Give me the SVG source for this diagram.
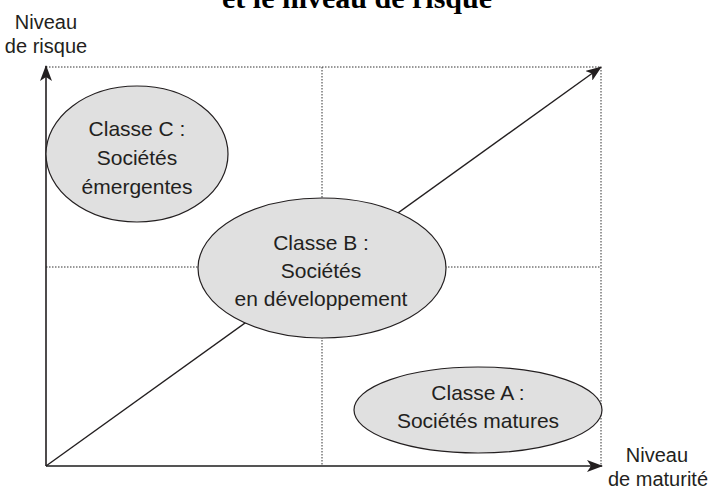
<svg xmlns="http://www.w3.org/2000/svg" width="708" height="489" viewBox="0 0 708 489">
<style>
.t{font-family:"Liberation Sans",Arial,sans-serif;font-size:20px;fill:#231f20;text-anchor:middle}
.e{font-size:21px}
.title{font-family:"Liberation Serif","Times New Roman",serif;font-weight:bold;font-size:30px;fill:#000;text-anchor:middle}
.dot{stroke:#333;stroke-width:1;stroke-dasharray:1.5 1.5;fill:none}
.ell{fill:#e0e0e0;stroke:#231f20;stroke-width:1.2}
</style>
<defs>
<marker id="ah" viewBox="0 0 16 12" refX="15" refY="6" markerWidth="16" markerHeight="12" markerUnits="userSpaceOnUse" orient="auto">
<path d="M0,0 L16,6 L0,12 L4,6 Z" fill="#231f20"/>
</marker>
</defs>
<rect width="708" height="489" fill="#fff"/>
<text class="title" x="357" y="8">et le niveau de risque</text>
<g id="grid">
<path class="dot" d="M46,67 H601 V466 M322,67 V466 M46,267 H601"/>
</g>
<g id="connectors">
<line x1="46" y1="466" x2="46" y2="66" stroke="#231f20" stroke-width="1.6" marker-end="url(#ah)"/>
<line x1="46" y1="466" x2="602" y2="466" stroke="#555" stroke-width="2.2" marker-end="url(#ah)"/>
<line x1="46" y1="466" x2="601" y2="67" stroke="#231f20" stroke-width="1.4" marker-end="url(#ah)"/>
</g>
<g id="label-y">
<text class="t" x="46" y="29">Niveau</text>
<text class="t" x="46" y="53">de risque</text>
</g>
<g id="label-x">
<text class="t" x="657" y="462">Niveau</text>
<text class="t" x="658" y="486">de maturité</text>
</g>
<g id="classe-c">
<ellipse class="ell" cx="137" cy="154" rx="91" ry="68"/>
<text class="t e" x="137" y="136">Classe C :</text>
<text class="t e" x="137" y="165">Sociétés</text>
<text class="t e" x="137" y="194">émergentes</text>
</g>
<g id="classe-b">
<ellipse class="ell" cx="322" cy="268" rx="124" ry="70"/>
<text class="t e" x="321" y="250">Classe B :</text>
<text class="t e" x="321" y="278">Sociétés</text>
<text class="t e" x="321" y="306">en développement</text>
</g>
<g id="classe-a">
<ellipse class="ell" cx="478" cy="410" rx="124" ry="43"/>
<text class="t e" x="478" y="400">Classe A :</text>
<text class="t e" x="478" y="428">Sociétés matures</text>
</g>
</svg>
